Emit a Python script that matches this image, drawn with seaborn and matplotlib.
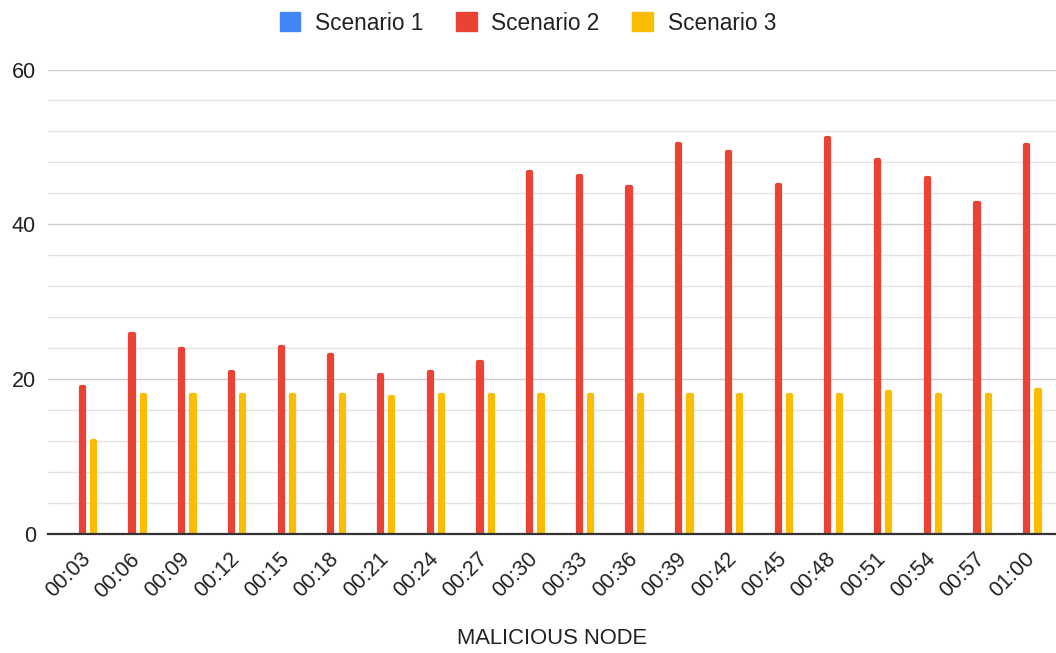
import numpy as np
import pandas as pd
import matplotlib
matplotlib.use("Agg")
import matplotlib.pyplot as plt
import matplotlib.transforms as mtransforms
from matplotlib.patches import Patch
from matplotlib.ticker import MultipleLocator
import seaborn as sns

# ---- data ----
times = ["00:03", "00:06", "00:09", "00:12", "00:15", "00:18", "00:21", "00:24", "00:27", "00:30",
         "00:33", "00:36", "00:39", "00:42", "00:45", "00:48", "00:51", "00:54", "00:57", "01:00"]
scenario_1 = [0] * 20
scenario_2 = [19.0, 25.8, 23.9, 20.9, 24.1, 23.1, 20.6, 20.9, 22.2, 46.8,
              46.3, 44.8, 50.4, 49.3, 45.1, 51.2, 48.3, 46.0, 42.7, 50.2]
scenario_3 = [12.0, 18.0, 18.0, 18.0, 18.0, 18.0, 17.7, 18.0, 18.0, 18.0,
              18.0, 18.0, 18.0, 18.0, 18.0, 18.0, 18.3, 18.0, 18.0, 18.6]
series_names = ["Scenario 1", "Scenario 2", "Scenario 3"]
colors = ["#4285F4", "#EA4335", "#FBBC04"]
x_label = "MALICIOUS NODE"
y_ticks = [0, 20, 40, 60]

df = pd.DataFrame({
    "time": times * 3,
    "scenario": [series_names[0]] * 20 + [series_names[1]] * 20 + [series_names[2]] * 20,
    "value": scenario_1 + scenario_2 + scenario_3,
})

sns.set_theme(style="white")
plt.rcParams["font.family"] = ["Liberation Sans", "DejaVu Sans"]
text_color = "#222222"

W, H = 1056, 653
fig = plt.figure(figsize=(W / 100, H / 100), dpi=100)
ax_left, ax_right, ax_top, ax_bottom = 48, 1056, 69.5, 534
ax = fig.add_axes([ax_left / W, 1 - ax_bottom / H, (ax_right - ax_left) / W, (ax_bottom - ax_top) / H])

sns.barplot(data=df, x="time", y="value", hue="scenario", hue_order=series_names,
            order=times, palette=colors, width=0.683, gap=0.72, ax=ax,
            legend=False, errorbar=None, saturation=1)

lw_pt = 4.2 * 72 / 100
for p in ax.patches:
    if p.get_height() > 0:
        p.set_edgecolor(p.get_facecolor())
        p.set_linewidth(lw_pt)
        p.set_joinstyle("round")
    else:
        p.set_linewidth(0)

ax.set_ylim(0, 60)
ax.set_xlim(-0.69, len(times) - 1 + 0.59)
ax.set_yticks(y_ticks)
ax.yaxis.set_minor_locator(MultipleLocator(4))
ax.grid(which="major", axis="y", color="#cccccc", linewidth=1.0, zorder=0)
ax.grid(which="minor", axis="y", color="#e3e3e3", linewidth=1.0, zorder=0)
ax.grid(axis="x", visible=False)
ax.set_axisbelow(True)

for s in ["top", "right", "left"]:
    ax.spines[s].set_visible(False)
ax.spines["bottom"].set_color("#333333")
ax.spines["bottom"].set_linewidth(1.6)
ax.spines["bottom"].set_zorder(5)

ax.tick_params(axis="y", which="both", length=0, pad=8.6, labelsize=15.5, labelcolor=text_color)
ax.tick_params(axis="x", which="both", length=0, pad=16, labelsize=15.5, labelcolor=text_color)
offset = mtransforms.ScaledTranslation(5 / 100, 0, fig.dpi_scale_trans)
for lbl in ax.get_xticklabels():
    lbl.set_rotation(45)
    lbl.set_ha("right")
    lbl.set_va("center")
    lbl.set_rotation_mode("anchor")
    lbl.set_transform(lbl.get_transform() + offset)

ax.set_ylabel("")
ax.set_xlabel(x_label, fontsize=15.8, color=text_color)
ax.xaxis.set_label_coords(0.5, (ax_bottom - 638) / (ax_bottom - ax_top), transform=ax.transAxes)
ax.xaxis.label.set_va("center")

handles = [Patch(facecolor=c, edgecolor=c, linewidth=1.0, joinstyle="round") for c in colors]
fig.legend(handles, series_names, loc="center", bbox_to_anchor=(0.5, 1 - 23 / H),
           ncol=3, frameon=False, fontsize=16.3, handlelength=0.9, handleheight=0.9,
           handletextpad=0.65, columnspacing=1.45, labelcolor=text_color)

fig.savefig("out.png", dpi=100)
